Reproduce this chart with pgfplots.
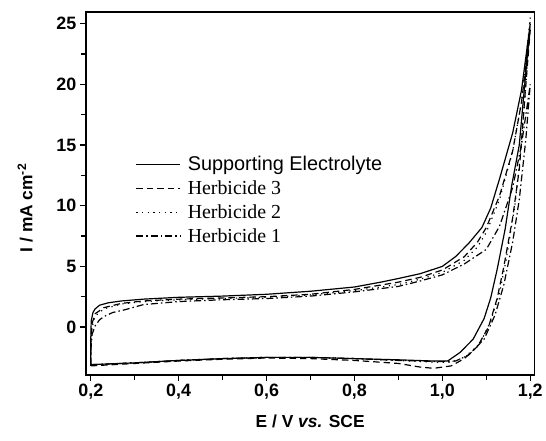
\documentclass[border=0pt]{standalone}
\usepackage{fontspec}
\setmainfont{Liberation Serif}
\setsansfont{Liberation Sans}
\usepackage{pgfplots}
\pgfplotsset{compat=1.18}

\begin{document}
\begin{tikzpicture}
\begin{axis}[
    scale only axis,
    width=450bp, height=364bp,
    xmin=0.1886, xmax=1.2098,
    ymin=-3.95, ymax=25.96,
    xtick={0.2,0.4,0.6,0.8,1.0,1.2},
    ytick={0,5,10,15,20,25},
    minor x tick num=1, minor y tick num=1,
    tick pos=left, tick align=outside,
    major tick length=6bp, minor tick length=5bp,
    every tick/.style={line width=1.2bp, black},
    axis line style={line width=1.8bp},
    /pgf/number format/assume math mode=true,
    x tick label style={/pgf/number format/.cd, use comma, fixed, fixed zerofill, precision=1},
    ticklabel style={font=\fontsize{18}{20}\selectfont\sffamily\bfseries},
    xlabel={E / V \textit{vs.} SCE},
    ylabel={I / mA cm\textsuperscript{-2}},
    label style={font=\fontsize{17.5}{19}\selectfont\sffamily\bfseries},
    xlabel style={at={(axis description cs:0.5,-0.129)}, anchor=center},
    ylabel style={at={(axis description cs:-0.135,0.46)}, anchor=center},
    legend style={draw=none, fill=none, at={(axis cs:0.295,14.4)}, anchor=north west,
        font=\fontsize{20}{22}\selectfont, row sep=4.5bp},
    legend cell align=left,
    legend image code/.code={\draw[#1] (0bp,0bp) -- (44bp,0bp); \path (49bp,0bp);},
    clip=false,
]
% Supporting Electrolyte
\addplot[black, line width=1.2bp] coordinates {
(0.2,-3.1) (0.2,-1) (0.201,0.5) (0.205,1.2) (0.21,1.5) (0.22,1.8) (0.24,2.0)
(0.27,2.15) (0.32,2.3) (0.4,2.45) (0.5,2.55) (0.6,2.7) (0.7,2.95) (0.8,3.3)
(0.86,3.7) (0.9,4.0) (0.95,4.4) (1.0,5.0) (1.03,5.8) (1.06,6.9) (1.09,8.2)
(1.11,9.8) (1.13,12.2) (1.16,16.0) (1.18,19.5) (1.2,25.0)
(1.19,21) (1.175,15) (1.158,11.7) (1.143,8.1) (1.125,4.8) (1.11,2.4)
(1.095,0.7) (1.07,-1) (1.04,-2.1) (1.012,-2.8) (0.98,-2.8) (0.9,-2.7)
(0.8,-2.6) (0.7,-2.5) (0.6,-2.5) (0.5,-2.6) (0.4,-2.75) (0.3,-2.95) (0.2,-3.1)
};
% Herbicide 3
\addplot[black, line width=1.2bp, dash pattern=on 6.5bp off 4bp] coordinates {
(0.2,-3.2) (0.2,-1) (0.203,0.3) (0.21,1.1) (0.23,1.6) (0.27,1.95) (0.32,2.15)
(0.4,2.3) (0.5,2.4) (0.6,2.5) (0.7,2.7) (0.8,3.1) (0.9,3.7) (0.95,4.1)
(1.0,4.7) (1.05,5.8) (1.08,7.0) (1.1,8.2) (1.13,10.8) (1.16,14.5) (1.18,18.5)
(1.2,24.5)
(1.19,20) (1.175,13) (1.16,9) (1.14,5) (1.125,2.4) (1.105,0) (1.08,-1.6)
(1.05,-2.6) (1.02,-3.2) (0.98,-3.4) (0.95,-3.3) (0.9,-3.0) (0.8,-2.75)
(0.7,-2.6) (0.6,-2.55) (0.5,-2.65) (0.4,-2.8) (0.3,-3.0) (0.2,-3.2)
};
% Herbicide 2
\addplot[black, line width=1.2bp, dash pattern=on 1.2bp off 4.5bp] coordinates {
(0.2,-3.1) (0.2,-1.5) (0.203,0) (0.21,0.9) (0.23,1.5) (0.27,1.9) (0.32,2.1)
(0.4,2.25) (0.5,2.35) (0.6,2.45) (0.7,2.65) (0.8,3.0) (0.9,3.5) (0.95,3.95)
(1.0,4.5) (1.05,5.5) (1.08,6.6) (1.1,7.8) (1.13,10.5) (1.16,14.5) (1.18,18.5)
(1.2,25.5)
(1.19,20) (1.18,15) (1.165,10) (1.145,5.5) (1.13,2.8) (1.11,0.5) (1.085,-1.4)
(1.05,-2.5) (1.02,-2.9) (0.98,-2.9) (0.9,-2.75) (0.8,-2.6) (0.7,-2.5)
(0.6,-2.5) (0.5,-2.6) (0.4,-2.75) (0.3,-2.95) (0.2,-3.1)
};
% Herbicide 1
\addplot[black, line width=1.2bp, dash pattern=on 7bp off 3bp on 1.5bp off 3bp] coordinates {
(0.2,-3.1) (0.2,-2) (0.203,-0.6) (0.21,0.1) (0.22,0.6) (0.23,0.86) (0.25,1.2)
(0.275,1.4) (0.32,1.85) (0.4,2.1) (0.5,2.25) (0.6,2.35) (0.7,2.55) (0.8,2.9)
(0.9,3.35) (0.95,3.8) (1.0,4.3) (1.05,5.2) (1.1,6.4) (1.13,8.3) (1.16,11.5)
(1.18,15) (1.2,20)
(1.19,15.5) (1.175,10.5) (1.16,7) (1.14,3.5) (1.12,1) (1.095,-1.0) (1.06,-2.3)
(1.03,-2.8) (1.0,-2.85) (0.9,-2.75) (0.8,-2.6) (0.7,-2.5) (0.6,-2.5)
(0.5,-2.6) (0.4,-2.75) (0.3,-2.95) (0.2,-3.1)
};
\legend{{\sffamily Supporting Electrolyte}, Herbicide 3, Herbicide 2, Herbicide 1}
\end{axis}
\path (current axis.south west) +(-86bp,-66bp);
\path (current axis.north east) +(10bp,12bp);
\end{tikzpicture}
\end{document}
